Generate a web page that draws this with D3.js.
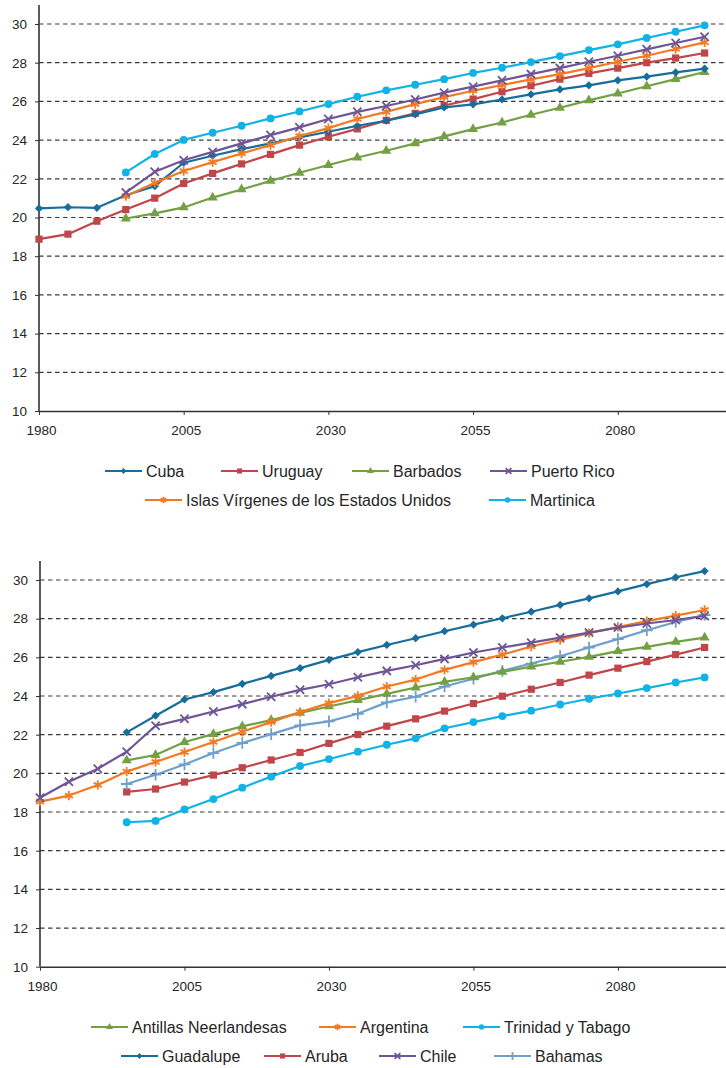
<!DOCTYPE html>
<html>
<head>
<meta charset="utf-8">
<script src="https://cdn.jsdelivr.net/npm/d3@7"></script>
<style>
  body { margin: 0; background: #fff; }
  text { font-family: "Liberation Sans", Arial, sans-serif; fill: #262626; }
</style>
</head>
<body>
<div class="chart"></div>
<script>
// years (categories)
const years = [1980, 1985, 1990, 1995, 2000, 2005, 2010, 2015, 2020, 2025, 2030, 2035,
               2040, 2045, 2050, 2055, 2060, 2065, 2070, 2075, 2080, 2085, 2090, 2095];
const xTicks = [1980, 2005, 2030, 2055, 2080];
const yTicks = [10, 12, 14, 16, 18, 20, 22, 24, 26, 28, 30];

// panel 1
const cuba = [20.47, 20.53, 20.5, 21.15, 21.62, 22.83, 23.19, 23.53, 23.83, 24.14, 24.43, 24.74,
              25.0, 25.33, 25.69, 25.85, 26.1, 26.36, 26.62, 26.83, 27.09, 27.28, 27.5, 27.69];
const uruguay = [18.88, 19.14, 19.81, 20.41, 21.0, 21.76, 22.28, 22.77, 23.26, 23.74, 24.17, 24.58,
                 25.02, 25.38, 25.79, 26.12, 26.5, 26.81, 27.15, 27.45, 27.72, 28.0, 28.24, 28.5];
const barbados = [null, null, null, 19.95, 20.21, 20.52, 21.03, 21.45, 21.89, 22.31, 22.71, 23.1,
                  23.45, 23.83, 24.19, 24.57, 24.91, 25.31, 25.67, 26.05, 26.41, 26.78, 27.15, 27.52];
const puertoRico = [null, null, null, 21.29, 22.36, 22.96, 23.39, 23.83, 24.26, 24.66, 25.09, 25.46,
                    25.76, 26.1, 26.45, 26.76, 27.09, 27.41, 27.72, 28.05, 28.36, 28.69, 29.02, 29.34];
const islasVirgenes = [null, null, null, 21.1, 21.79, 22.4, 22.86, 23.31, 23.74, 24.21, 24.62, 25.09,
                       25.46, 25.86, 26.22, 26.55, 26.84, 27.14, 27.41, 27.72, 28.05, 28.36, 28.71, 29.05];
const martinica = [null, null, null, 22.33, 23.28, 24.01, 24.38, 24.74, 25.12, 25.48, 25.86, 26.24,
                   26.57, 26.86, 27.15, 27.47, 27.74, 28.03, 28.34, 28.65, 28.95, 29.28, 29.6, 29.93];

// panel 2
const guadalupe = [null, null, null, 22.12, 22.98, 23.82, 24.2, 24.63, 25.04, 25.44, 25.87, 26.27,
                   26.64, 26.99, 27.35, 27.69, 28.02, 28.36, 28.71, 29.05, 29.41, 29.79, 30.14, 30.46];
const chile = [18.74, 19.57, 20.24, 21.12, 22.46, 22.82, 23.2, 23.58, 23.96, 24.32, 24.61, 24.97,
               25.3, 25.59, 25.92, 26.25, 26.51, 26.76, 27.02, 27.28, 27.54, 27.75, 27.93, 28.14];
const argentina = [18.54, 18.85, 19.4, 20.09, 20.59, 21.1, 21.62, 22.15, 22.65, 23.17, 23.63, 24.01,
                   24.49, 24.85, 25.35, 25.75, 26.14, 26.56, 26.9, 27.25, 27.57, 27.87, 28.16, 28.45];
const antillas = [null, null, null, 20.67, 20.95, 21.62, 22.03, 22.43, 22.75, 23.13, 23.46, 23.79,
                  24.11, 24.44, 24.73, 24.97, 25.25, 25.52, 25.77, 26.02, 26.32, 26.54, 26.8, 27.02];
const bahamas = [null, null, null, 19.45, 19.93, 20.46, 21.05, 21.57, 22.03, 22.48, 22.69, 23.08,
                 23.67, 23.96, 24.49, 24.89, 25.3, 25.68, 26.06, 26.51, 26.94, 27.4, 27.83, 28.19];
const aruba = [null, null, null, 19.04, 19.19, 19.55, 19.91, 20.29, 20.69, 21.08, 21.55, 22.01,
               22.44, 22.82, 23.22, 23.61, 23.99, 24.35, 24.7, 25.08, 25.44, 25.78, 26.14, 26.51];
const trinidad = [null, null, null, 17.47, 17.54, 18.13, 18.67, 19.26, 19.83, 20.38, 20.74, 21.12,
                  21.48, 21.81, 22.33, 22.65, 22.96, 23.24, 23.56, 23.86, 24.13, 24.41, 24.7, 24.96];

const C = {
  blue: "#176d9c", red: "#c0464a", green: "#72a043", purple: "#6e5596",
  orange: "#f37a22", cyan: "#11b2e6", steel: "#6f9fcb"
};

const panels = [
  {
    top: 24, bottom: 411, axisLeft: 39, axisTop: 5, tickY: 430,
    series: [
      { name: "Barbados", values: barbados, color: C.green, shape: "triangle", lx: 352, row: 0 },
      { name: "Uruguay", values: uruguay, color: C.red, shape: "square", lx: 221, row: 0 },
      { name: "Cuba", values: cuba, color: C.blue, shape: "diamond", lx: 105, row: 0 },
      { name: "Islas Vírgenes de los Estados Unidos", values: islasVirgenes, color: C.orange, shape: "asterisk", lx: 145, row: 1 },
      { name: "Puerto Rico", values: puertoRico, color: C.purple, shape: "times", lx: 490, row: 0 },
      { name: "Martinica", values: martinica, color: C.cyan, shape: "circle", lx: 489, row: 1 }
    ],
    legendY: [471, 500]
  },
  {
    top: 580, bottom: 966.7, axisLeft: 40, axisTop: 561, tickY: 986,
    series: [
      { name: "Trinidad y Tabago", values: trinidad, color: C.cyan, shape: "circle", lx: 463, row: 0 },
      { name: "Aruba", values: aruba, color: C.red, shape: "square", lx: 264, row: 1 },
      { name: "Bahamas", values: bahamas, color: C.steel, shape: "plus", lx: 494, row: 1 },
      { name: "Antillas Neerlandesas", values: antillas, color: C.green, shape: "triangle", lx: 91, row: 0 },
      { name: "Argentina", values: argentina, color: C.orange, shape: "asterisk", lx: 319, row: 0 },
      { name: "Chile", values: chile, color: C.purple, shape: "times", lx: 379, row: 1 },
      { name: "Guadalupe", values: guadalupe, color: C.blue, shape: "diamond", lx: 121, row: 1 }
    ],
    legendY: [1027, 1056]
  }
];

const W = 726, H = 1068;
const svg = d3.select(".chart").append("svg")
  .attr("width", W)
  .attr("height", H);

const symTypes = {
  diamond: d3.symbolSquare, square: d3.symbolSquare, triangle: d3.symbolTriangle,
  circle: d3.symbolCircle, times: d3.symbolTimes, asterisk: d3.symbolAsterisk, plus: d3.symbolPlus
};
const symSize = { diamond: 34, square: 52, triangle: 44, circle: 48, times: 46, asterisk: 60, plus: 46 };
const stroked = { times: true, asterisk: true, plus: true };

function marker(sel, s, scale, x, y) {
  const rot = s.shape === "diamond" ? " rotate(45)" : "";
  const p = sel.append("path")
    .attr("d", d3.symbol().type(symTypes[s.shape]).size(symSize[s.shape] * scale)())
    .attr("transform", `translate(${x},${y})${rot}`);
  if (stroked[s.shape]) {
    p.attr("fill", "none").attr("stroke", s.color).attr("stroke-width", 1.8);
  } else {
    p.attr("fill", s.color);
  }
  return p;
}

panels.forEach(pn => {
  const g = svg.append("g");
  const xScale = d3.scaleLinear()
    .domain([1980, 2098.7])
    .range([pn.axisLeft, W]);
  const yScale = d3.scaleLinear()
    .domain([10, 30])
    .range([pn.bottom, pn.top]);

  // gridlines
  g.selectAll(".grid")
    .data(yTicks.filter(d => d > 10))
    .enter().append("line")
    .attr("x1", pn.axisLeft).attr("x2", W)
    .attr("y1", d => yScale(d)).attr("y2", d => yScale(d))
    .attr("stroke", "#3a3a3a")
    .attr("stroke-width", 1.2)
    .attr("stroke-dasharray", "4.5,3.5");

  // y axis
  const yAxis = d3.axisLeft(yScale).tickValues(yTicks).tickSize(4).tickSizeOuter(0);
  const ya = g.append("g")
    .attr("transform", `translate(${pn.axisLeft},0)`)
    .call(yAxis);
  ya.select(".domain").remove();
  ya.selectAll(".tick line").attr("stroke", "#333");
  ya.selectAll(".tick text").attr("x", -12).attr("font-size", 13.5).attr("fill", "#333")
    .style("font-family", "Liberation Sans, Arial, sans-serif");
  g.append("line")
    .attr("x1", pn.axisLeft).attr("x2", pn.axisLeft)
    .attr("y1", pn.axisTop).attr("y2", pn.bottom)
    .attr("stroke", "#333").attr("stroke-width", 1.6);

  // x axis
  const xAxis = d3.axisBottom(xScale).tickValues(xTicks).tickFormat(d3.format("d")).tickSize(4).tickSizeOuter(0);
  const xa = g.append("g")
    .attr("transform", `translate(0,${pn.bottom})`)
    .call(xAxis);
  xa.select(".domain").attr("stroke", "#333").attr("stroke-width", 1.6);
  xa.selectAll(".tick line").attr("stroke", "#333");
  xa.selectAll(".tick text").attr("y", pn.tickY - pn.bottom - 5).attr("dx", 2).attr("font-size", 13.5).attr("fill", "#333")
    .style("font-family", "Liberation Sans, Arial, sans-serif");

  const line = d3.line()
    .defined(d => d.v != null)
    .x(d => xScale(d.year))
    .y(d => yScale(d.v));

  pn.series.forEach(s => {
    const pts = years.map((y, i) => ({ year: y, v: s.values[i] }));
    g.append("path")
      .datum(pts)
      .attr("d", line)
      .attr("fill", "none")
      .attr("stroke", s.color)
      .attr("stroke-width", 2.2)
      .attr("stroke-linejoin", "round");
    pts.filter(d => d.v != null).forEach(d => {
      marker(g, s, 1, xScale(d.year), yScale(d.v));
    });
  });

  // legend
  pn.series.forEach(s => {
    const ly = pn.legendY[s.row];
    const lg = svg.append("g").attr("transform", `translate(${s.lx},${ly})`);
    lg.append("line")
      .attr("x1", 0).attr("x2", 37).attr("y1", 0).attr("y2", 0)
      .attr("stroke", s.color).attr("stroke-width", 2.2);
    marker(lg, s, 0.5, 18.5, 0);
    lg.append("text")
      .attr("x", 41).attr("y", 0).attr("dy", "0.36em")
      .attr("font-size", 16)
      .text(s.name);
  });
});
</script>
</body>
</html>
